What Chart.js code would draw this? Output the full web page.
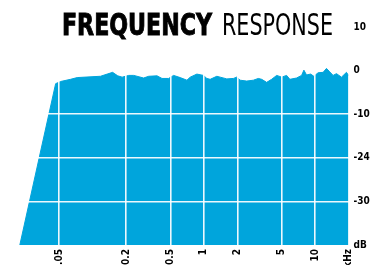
<!DOCTYPE html>
<html>
<head>
<meta charset="utf-8">
<script src="https://cdn.jsdelivr.net/npm/chart.js@4/dist/chart.umd.min.js"></script>
<style>
  html, body { margin: 0; padding: 0; background: #fff; }
  #wrap { position: relative; width: 377px; height: 265px; overflow: hidden; }
  #c { position: absolute; left: 0; top: 0; }
  .t { position: absolute; top: 10px; font-size: 30px; line-height: 30px; color: #000; white-space: nowrap; transform-origin: 0 0; }
  #t1 { left: 62px; font-family: "Liberation Sans Narrow", "DejaVu Sans Condensed", sans-serif; font-weight: bold; -webkit-text-stroke: 0.9px #000; }
  #t2 { left: 222px; font-family: "Liberation Sans Narrow", "DejaVu Sans Condensed", sans-serif; font-weight: normal; }
</style>
</head>
<body>
<div id="wrap">
  <canvas id="c" width="377" height="265"></canvas>
  <span class="t" id="t1">FREQUENCY</span><span class="t" id="t2">RESPONSE</span>
</div>
<script>
// ---- data (frequency in kHz, level in dB) ----
const freqKHz = [0.0221, 0.0464, 0.0514, 0.0632, 0.0726, 0.1175, 0.135, 0.151, 0.168, 0.184,
  0.211, 0.234, 0.287, 0.319, 0.379, 0.420, 0.482, 0.534, 0.612, 0.704,
  0.754, 0.865, 0.99, 1.064, 1.139, 1.308, 1.40, 1.608, 1.842, 1.977,
  2.117, 2.43, 2.786, 3.09, 3.31, 3.67, 4.07, 4.52, 5.01, 5.55,
  5.94, 6.82, 7.57, 7.94, 8.39, 9.12, 9.76, 10.66, 11.82, 12.68,
  13.58, 14.54, 15.59, 17.29, 19.17, 20];
const levelDB = [-40, -3.0, -2.5, -2.0, -1.6, -1.3, -0.8, -0.4, -1.2, -1.5,
  -1.1, -1.1, -1.7, -1.3, -1.2, -1.8, -1.8, -1.1, -1.6, -2.2,
  -1.5, -0.8, -1.1, -1.8, -2.0, -1.3, -1.5, -1.9, -1.8, -1.5,
  -2.2, -2.4, -2.2, -1.8, -2.0, -2.7, -2.0, -1.1, -1.5, -1.1,
  -2.0, -1.7, -1.1, 0.1, -1.0, -0.8, -1.3, -0.5, -0.4, 0.5,
  -0.3, -1.1, -0.7, -1.5, -0.4, -1.1];
const xTickValues = [0.05, 0.2, 0.5, 1, 2, 5, 10, 20];
const xTickLabels = ['0.05', '0.2', '0.5', '1', '2', '5', '10', 'kHz'];
const yTickValues = [10, 0, -10, -20, -30, -40];
const yTickLabels = ['10', '0', '-10', '-24', '-30', 'dB'];
const xGridShown = [0.05, 0.2, 0.5, 1, 2, 5, 10];
const yGridShown = [-10, -20, -30];

const BLUE = '#00a5dc';
const tickFont = { family: '"Liberation Sans Narrow", "DejaVu Sans Condensed", sans-serif', weight: 'bold', size: 10 };

const points = freqKHz.map((f, i) => ({ x: f, y: levelDB[i] }));

new Chart(document.getElementById('c'), {
  type: 'line',
  data: {
    datasets: [{
      data: points,
      borderColor: BLUE,
      borderWidth: 1,
      backgroundColor: BLUE,
      fill: 'start',
      pointRadius: 0,
      tension: 0
    }]
  },
  options: {
    responsive: false,
    animation: false,
    layout: { padding: { left: 15, top: 27, right: 0, bottom: 0 } },
    plugins: { legend: { display: false }, tooltip: { enabled: false }, title: { display: false } },
    scales: {
      x: {
        type: 'logarithmic',
        min: 0.02,
        max: 20,
        border: { display: false },
        afterBuildTicks: s => { s.ticks = xTickValues.map(v => ({ value: v })); },
        afterFit: s => { s.height = 20; },
        grid: {
          z: 1,
          drawTicks: false,
          lineWidth: 1.6,
          color: ctx => (ctx.tick && xGridShown.includes(ctx.tick.value)) ? 'rgba(255,255,255,0.92)' : 'rgba(0,0,0,0)'
        },
        ticks: {
          autoSkip: false,
          minRotation: 90,
          maxRotation: 90,
          padding: 4,
          color: '#000',
          font: tickFont,
          callback: (v) => { const i = xTickValues.indexOf(v); return i >= 0 ? xTickLabels[i] : ''; }
        }
      },
      y: {
        type: 'linear',
        position: 'right',
        min: -40,
        max: 10,
        border: { display: false },
        afterBuildTicks: s => { s.ticks = yTickValues.map(v => ({ value: v })); },
        afterFit: s => { s.width = 28.5; },
        grid: {
          z: 1,
          drawTicks: false,
          lineWidth: 1.6,
          color: ctx => (ctx.tick && yGridShown.includes(ctx.tick.value)) ? 'rgba(255,255,255,0.92)' : 'rgba(0,0,0,0)'
        },
        ticks: {
          padding: 5,
          color: '#000',
          font: tickFont,
          callback: (v) => { const i = yTickValues.indexOf(v); return i >= 0 ? yTickLabels[i] : ''; }
        }
      }
    }
  }
});

// fit title words to the reference widths
(function () {
  const t1 = document.getElementById('t1'), t2 = document.getElementById('t2');
  const w1 = t1.getBoundingClientRect().width, w2 = t2.getBoundingClientRect().width;
  t1.style.transform = 'scaleX(' + (150 / w1) + ')';
  t2.style.transform = 'scaleX(' + (111 / w2) + ')';
})();
</script>
</body>
</html>
